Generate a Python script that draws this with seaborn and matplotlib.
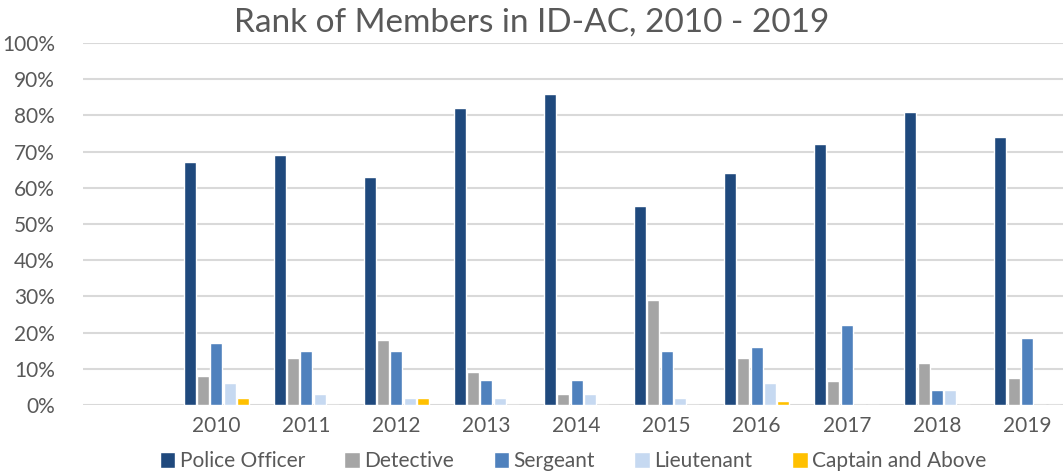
import matplotlib
matplotlib.use("Agg")
import matplotlib.pyplot as plt
import seaborn as sns
import pandas as pd

years = ["2010", "2011", "2012", "2013", "2014", "2015", "2016", "2017", "2018", "2019"]
ranks = ["Police Officer", "Detective", "Sergeant", "Lieutenant", "Captain and Above"]

police_officer = [67, 69, 63, 82, 86, 55, 64, 72, 81, 74]
detective = [8, 13, 18, 9, 3, 29, 13, 6.5, 11.5, 7.5]
sergeant = [17, 15, 15, 7, 7, 15, 16, 22, 4, 18.5]
lieutenant = [6, 3, 2, 2, 3, 2, 6, 0, 4, 0]
captain = [2, 0, 2, 0, 0, 0, 1, 0, 0, 0]

colors = ["#1F497D", "#A5A5A5", "#4F81BD", "#C6D9F1", "#FFC000"]
text_color = "#595959"

series = [police_officer, detective, sergeant, lieutenant, captain]
rows = []
for rank, vals in zip(ranks, series):
    for yr, v in zip(years, vals):
        rows.append({"Year": yr, "Rank": rank, "Value": v})
df = pd.DataFrame(rows)

sns.set_style("white")
plt.rcParams['font.family'] = ['Lato', 'DejaVu Sans']

fig = plt.figure(figsize=(10.63, 4.72), dpi=100)
ax = fig.add_axes([0.078, 0.142, 0.922, 0.767])

sns.barplot(data=df, x="Year", y="Value", hue="Rank", hue_order=ranks,
            palette=colors, width=0.74, gap=0.1, ax=ax, errorbar=None,
            saturation=1)

ax.set_ylim(0, 100)
ax.set_xlim(-1.48, 9.4)
ax.set_yticks(range(0, 101, 10))
ax.set_yticklabels([f"{v}%" for v in range(0, 101, 10)])
ax.grid(axis="y", color="#D9D9D9", linewidth=1.5)
ax.set_axisbelow(True)
for s in ax.spines.values():
    s.set_visible(False)
ax.set_xlabel("")
ax.set_ylabel("")
ax.tick_params(axis="both", length=0, labelsize=15, colors=text_color)
ax.tick_params(axis="y", pad=20)
ax.tick_params(axis="x", pad=8)

fig.text(0.5, 0.953, "Rank of Members in ID-AC, 2010 - 2019", ha="center",
         va="center", fontsize=24, color=text_color)

ax.legend(loc="lower center", bbox_to_anchor=(0.5, -0.235), ncol=5,
          frameon=False, fontsize=15, handlelength=0.75, handleheight=0.75,
          handletextpad=0.2, columnspacing=1.9, labelcolor=text_color)

fig.savefig("out.png", dpi=100)
